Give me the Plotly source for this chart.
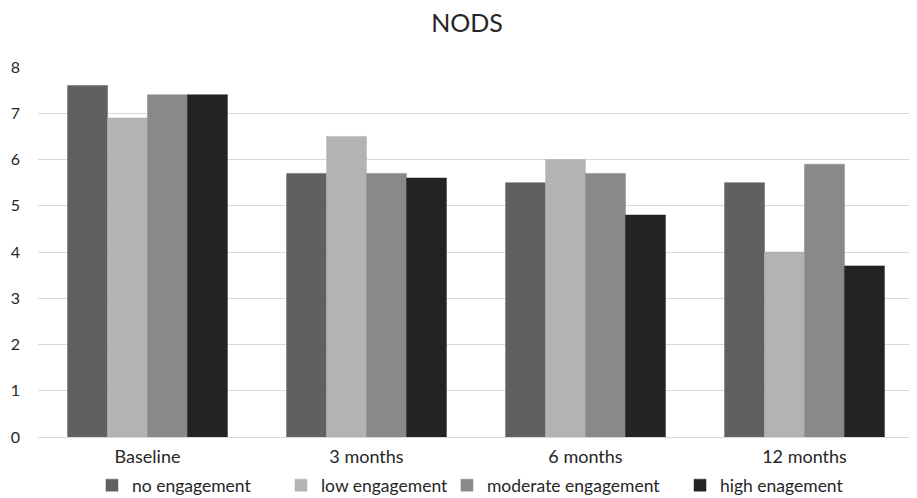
import plotly.graph_objects as go

categories = ["Baseline", "3 months", "6 months", "12 months"]
series_names = ["no engagement", "low engagement", "moderate engagement", "high enagement"]
no_engagement = [7.6, 5.7, 5.5, 5.5]
low_engagement = [6.9, 6.5, 6.0, 4.0]
moderate_engagement = [7.4, 5.7, 5.7, 5.9]
high_engagement = [7.4, 5.6, 4.8, 3.7]
colors = ["#606060", "#b3b3b3", "#898989", "#232323"]
y_ticks = [0, 1, 2, 3, 4, 5, 6, 7, 8]

legend_ids = ["legend", "legend2", "legend3", "legend4"]
legend_x = [0.0924, 0.3003, 0.4829, 0.7393]

fig = go.Figure()
for name, vals, col, lid in zip(series_names,
                                [no_engagement, low_engagement, moderate_engagement, high_engagement],
                                colors, legend_ids):
    fig.add_trace(go.Bar(x=categories, y=vals, name=name, legend=lid,
                         marker=dict(color=col, line=dict(color=col, width=0.5))))

font = "Lato, 'Open Sans', sans-serif"
legend_common = dict(orientation="h", xref="container", yref="container",
                     xanchor="left", y=0.026, yanchor="middle",
                     font=dict(family=font, size=17.5, color="#262626"),
                     itemwidth=30, bgcolor="rgba(0,0,0,0)", borderwidth=0)

# page body has an 8px default margin, so the figure is drawn at offset (8, 8)
fig.update_layout(
    width=909, height=490,
    margin=dict(l=30, r=3, t=59, b=61, autoexpand=False),
    paper_bgcolor="white", plot_bgcolor="white",
    barmode="group", bargap=0.27, bargroupgap=0,
    title=dict(text="NODS", xref="container", x=0.505, xanchor="center",
               yref="container", y=0.969, yanchor="middle",
               font=dict(family=font, size=25, color="#262626")),
    font=dict(family=font, size=16, color="#262626"),
    showlegend=True,
    legend=dict(x=legend_x[0], **legend_common),
    legend2=dict(x=legend_x[1], **legend_common),
    legend3=dict(x=legend_x[2], **legend_common),
    legend4=dict(x=legend_x[3], **legend_common),
    xaxis=dict(showgrid=False, showline=True, linecolor="#d9d9d9", linewidth=1,
               ticks="", ticklabelstandoff=3, tickfont=dict(size=18), automargin=False),
    yaxis=dict(range=[0, 8], tickvals=y_ticks, showgrid=True, gridcolor="#d9d9d9",
               gridwidth=1, zeroline=False, showline=False, ticks="", automargin=False,
               ticklabelstandoff=17, tickfont=dict(size=16)),
)

fig.write_html("out.html")
